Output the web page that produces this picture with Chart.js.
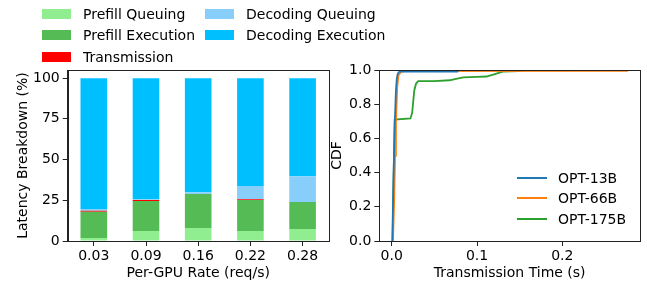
<!DOCTYPE html>
<html>
<head>
<meta charset="utf-8">
<script src="https://cdn.jsdelivr.net/npm/chart.js@4.4.1/dist/chart.umd.min.js"></script>
<style>
  body { margin: 0; background: #fff; font-family: 'DejaVu Sans', sans-serif; }
  #wrap { position: relative; width: 647px; height: 282px; overflow: hidden; }
  canvas { position: absolute; top: 0; }
  .lg { position: absolute; font-size: 14px; line-height: 16px; white-space: nowrap; color: #000; }
  .sw { position: absolute; }
</style>
</head>
<body>
<div id="wrap">
  <canvas id="breakdown" width="345" height="282" style="left:0;width:345px;height:282px"></canvas>
  <canvas id="cdf" width="327" height="282" style="left:320px;width:327px;height:282px"></canvas>
</div>
<script>
// latency breakdown (%) per rate
const rates = ['0.03', '0.09', '0.16', '0.22', '0.28'];
const prefillQueuing   = [1.8, 6.1, 8.0, 6.1, 7.3];
const prefillExecution = [16.2, 18.4, 20.8, 19.0, 16.6];
const transmission     = [0.5, 0.6, 0.1, 0.6, 0.1];
const decodingQueuing  = [1.1, 0.6, 1.1, 8.0, 15.8];
const decodingExecution = [80.4, 74.3, 70.0, 66.3, 60.2];
const breakdownTicks = [0, 25, 50, 75, 100];

// transmission time CDF
const opt13bTime = [0.0008, 0.002, 0.0037, 0.005, 0.006, 0.007, 0.008, 0.009, 0.077, 0.078];
const opt13bCdf  = [0, 0.35, 0.70, 0.88, 0.95, 0.975, 0.985, 0.99, 0.99, 1.0];
const opt66bTime = [0.0015, 0.003, 0.004, 0.005, 0.0065, 0.008, 0.011, 0.016, 0.277];
const opt66bCdf  = [0, 0.25, 0.5, 0.7, 0.9, 0.97, 0.99, 0.994, 0.995];
const opt175bTime = [0.001, 0.0035, 0.022, 0.024, 0.0265, 0.0285, 0.031, 0.05, 0.068, 0.074, 0.084, 0.1, 0.111, 0.12, 0.13, 0.149, 0.155];
const opt175bCdf  = [0, 0.71, 0.717, 0.75, 0.88, 0.92, 0.935, 0.935, 0.94, 0.947, 0.957, 0.96, 0.962, 0.975, 0.99, 0.993, 1.0];
const cdfXTicks = [0, 0.1, 0.2];
const cdfYTicks = [0, 0.2, 0.4, 0.6, 0.8, 1.0];

const barNames  = ['Prefill Queuing', 'Prefill Execution', 'Transmission', 'Decoding Queuing', 'Decoding Execution'];
const barColors = ['#90ee90', '#55bb55', '#ff0000', '#87cefa', '#00bfff'];
const barSeries = [prefillQueuing, prefillExecution, transmission, decodingQueuing, decodingExecution];

const lineNames  = ['OPT-13B', 'OPT-66B', 'OPT-175B'];
const lineColors = ['#1f77b4', '#ff7f0e', '#2ca02c'];
const lineX = [opt13bTime, opt66bTime, opt175bTime];
const lineY = [opt13bCdf, opt66bCdf, opt175bCdf];

const FONT = { family: 'DejaVu Sans', size: 14 };
const SPINE = '#222';

// box around the plot area (matplotlib spines)
const frame = {
  id: 'frame',
  afterDraw(chart) {
    const { ctx, chartArea: a } = chart;
    ctx.save();
    ctx.strokeStyle = SPINE;
    ctx.lineWidth = 1;
    ctx.strokeRect(Math.round(a.left) + 0.5, Math.round(a.top) + 0.5,
      Math.round(a.right - a.left), Math.round(a.bottom - a.top));
    ctx.restore();
  }
};

function axisStyle() {
  return {
    grid: { drawOnChartArea: false, tickLength: 5, color: SPINE, offset: false },
    border: { color: SPINE },
    ticks: { color: '#000', font: FONT, maxRotation: 0, autoSkip: false },
  };
}

new Chart(document.getElementById('breakdown'), {
  type: 'bar',
  data: {
    labels: rates,
    datasets: barSeries.map((vals, i) => ({
      label: barNames[i],
      data: vals,
      backgroundColor: barColors[i],
      borderWidth: 0,
      barPercentage: 0.51,
      categoryPercentage: 1.0,
    })),
  },
  options: {
    responsive: false,
    animation: false,
    layout: { padding: { top: 70, right: 16.3, left: 0, bottom: 0 } },
    plugins: { legend: { display: false }, tooltip: { enabled: false } },
    scales: {
      x: {
        ...axisStyle(),
        stacked: true,
        ticks: { ...axisStyle().ticks, padding: 2 },
        title: { display: true, text: 'Per-GPU Rate (req/s)', color: '#000', font: FONT, padding: { top: 0, bottom: 0.5 } },
        afterFit(s) { s.height = 41; },
      },
      y: {
        ...axisStyle(),
        stacked: true,
        min: 0,
        max: 105,
        ticks: { ...axisStyle().ticks, padding: 3 },
        afterBuildTicks(s) { s.ticks = breakdownTicks.map(v => ({ value: v })); },
        title: { display: true, text: 'Latency Breakdown (%)', color: '#000', font: FONT, padding: { top: 14.5, bottom: 0 } },
        afterFit(s) { s.width = 67.7; },
      },
    },
  },
  plugins: [frame],
});

new Chart(document.getElementById('cdf'), {
  type: 'scatter',
  data: {
    datasets: lineNames.map((name, i) => ({
      label: name,
      data: lineX[i].map((t, j) => ({ x: t, y: lineY[i][j] })),
      borderColor: lineColors[i],
      backgroundColor: lineColors[i],
      borderWidth: 1.8,
      showLine: true,
      pointRadius: 0,
      tension: 0,
    })),
  },
  options: {
    responsive: false,
    animation: false,
    layout: { padding: { top: 70, right: 7, left: 0, bottom: 0 } },
    plugins: { legend: { display: false }, tooltip: { enabled: false } },
    scales: {
      x: {
        ...axisStyle(),
        type: 'linear',
        min: -0.0145,
        max: 0.291,
        ticks: { ...axisStyle().ticks, padding: 2, callback: v => v.toFixed(1) },
        afterBuildTicks(s) { s.ticks = cdfXTicks.map(v => ({ value: v })); },
        title: { display: true, text: 'Transmission Time (s)', color: '#000', font: FONT, padding: { top: 0, bottom: 0.5 } },
        afterFit(s) { s.height = 41; },
      },
      y: {
        ...axisStyle(),
        min: 0,
        max: 1,
        ticks: { ...axisStyle().ticks, padding: 3, callback: v => v.toFixed(1) },
        afterBuildTicks(s) { s.ticks = cdfYTicks.map(v => ({ value: v })); },
        title: { display: true, text: 'CDF', color: '#000', font: FONT, padding: { top: 8.6, bottom: 0 } },
        afterFit(s) { s.width = 59.3; },
      },
    },
  },
  plugins: [frame],
});

// legends as html text
const wrap = document.getElementById('wrap');
function addText(txt, x, cy) {
  const d = document.createElement('div');
  d.className = 'lg';
  d.textContent = txt;
  d.style.left = x + 'px';
  d.style.top = (cy - 8) + 'px';
  wrap.appendChild(d);
}
function addSwatch(color, x, cy, w, h) {
  const d = document.createElement('div');
  d.className = 'sw';
  d.style.background = color;
  d.style.left = x + 'px';
  d.style.top = (cy - h / 2) + 'px';
  d.style.width = w + 'px';
  d.style.height = h + 'px';
  wrap.appendChild(d);
}
// bar legend: two columns, filled down first
const barLegendSlots = [[42, 14], [42, 35], [42, 56.5], [205, 14], [205, 35]];
barNames.forEach((name, i) => {
  const [x, cy] = barLegendSlots[i];
  addSwatch(barColors[i], x, cy, 29, 10);
  addText(name, x + 41, cy);
});
const lineLegendRows = [178.3, 198.3, 219.3];
lineNames.forEach((name, i) => {
  addSwatch(lineColors[i], 517, lineLegendRows[i], 30, 2);
  addText(name, 558, lineLegendRows[i]);
});
</script>
</body>
</html>
